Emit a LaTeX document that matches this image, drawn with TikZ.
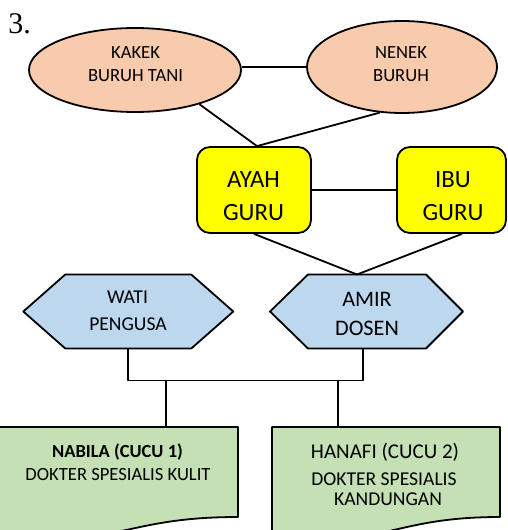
\documentclass[tikz,border=0pt]{standalone}
\usepackage{fontspec}
\setmainfont{Carlito}
\newfontfamily\timesf{Liberation Serif}
\usetikzlibrary{shapes.geometric}
\definecolor{peach}{HTML}{F8CBAD}
\definecolor{boxyellow}{HTML}{FFFF00}
\definecolor{hexblue}{HTML}{BDD7EE}
\definecolor{docgreen}{HTML}{C5E0B4}
\begin{document}
\begin{tikzpicture}[x=1pt,y=-1pt, line width=1.8pt, line join=round,
  lbl/.style={anchor=base, inner sep=0pt, outer sep=0pt},
  fa/.style={font=\fontsize{18.6}{21}\selectfont},
  fb/.style={font=\fontsize{24.8}{27}\selectfont},
  fc/.style={font=\fontsize{19.6}{22}\selectfont},
  fd/.style={font=\fontsize{22.2}{25}\selectfont},
  fe/.style={font=\fontsize{18.5}{21}\selectfont\bfseries},
  ff/.style={font=\fontsize{21}{24}\selectfont},
  fg/.style={font=\fontsize{19.6}{22}\selectfont},
  ell/.style={ellipse, draw, fill=peach, inner sep=0pt},
  rbox/.style={rectangle, rounded corners=13pt, draw, fill=boxyellow, inner sep=0pt},
  frame/.style={rectangle, inner sep=0pt, outer sep=0pt},
  hexfill/.style={draw, fill=hexblue},
  docfill/.style={draw, fill=docgreen}]
\useasboundingbox (0,0) rectangle (507,530);
\clip (0,0) rectangle (507,530);

% shapes
\node[ell, minimum width=212pt, minimum height=84pt] (kakek) at (135,70) {};
\node[ell, minimum width=190pt, minimum height=92pt] (nenek) at (402,67) {};
\node[rbox, minimum width=114pt, minimum height=86pt] (ayah) at (254,190) {};
\node[rbox, minimum width=109pt, minimum height=86pt] (ibu) at (451.5,190) {};
\node[frame, minimum width=210pt, minimum height=74pt] (wati) at (128.3,311.5) {};
\node[frame, minimum width=193pt, minimum height=74pt] (amir) at (366.5,311.5) {};
\node[frame, minimum width=240pt, minimum height=112.2pt] (nabila) at (118,483.1) {};
\node[frame, minimum width=228pt, minimum height=112.2pt] (hanafi) at (386,483.1) {};

\path[hexfill] (wati.west) -- ([xshift=42pt]wati.north west) -- ([xshift=-42pt]wati.north east)
  -- (wati.east) -- ([xshift=-42pt]wati.south east) -- ([xshift=42pt]wati.south west) -- cycle;
\path[hexfill] (amir.west) -- ([xshift=38pt]amir.north west) -- ([xshift=-37pt]amir.north east)
  -- (amir.east) -- ([xshift=-37pt]amir.south east) -- ([xshift=38pt]amir.south west) -- cycle;

\path[docfill] (nabila.north west) -- (nabila.north east) -- ([yshift=-90pt]nabila.north east)
  .. controls ([yshift=-90pt]nabila.north) and ([yshift=-124.3pt]nabila.north)
  .. ([yshift=-104.8pt]nabila.north west) -- cycle;
\path[docfill] (hanafi.north west) -- (hanafi.north east) -- ([yshift=-90pt]hanafi.north east)
  .. controls ([yshift=-90pt]hanafi.north) and ([yshift=-124.3pt]hanafi.north)
  .. ([yshift=-104.8pt]hanafi.north west) -- cycle;

% connectors
\draw (kakek.east |- nenek.west) -- (nenek.west);
\draw (kakek.-28.4) -- ([xshift=3pt]ayah.north);
\draw (nenek.-116) -- ([xshift=3pt]ayah.north);
\draw (ayah.east) -- (ibu.west);
\draw (ayah.south) -- ([xshift=-9.5pt]amir.north);
\draw ([xshift=10.5pt]ibu.south) -- ([xshift=-9.5pt]amir.north);
\draw (wati.south) -- ++(0,32) -| ([xshift=-3.5pt]amir.south);
\coordinate (jL) at (165.7,381);
\coordinate (jR) at (338,381);
\draw (jL) -- (jL |- nabila.north);
\draw (jR) -- (jR |- hanafi.north);

% texts
\node[lbl, anchor=base west, font=\timesf\fontsize{30}{32}\selectfont] (num) at (8.5,33.3) {3.};
\node[lbl, fa] (t1a) at (135.5,58) {KAKEK};
\node[lbl, fa] (t1b) at (135.5,81) {BURUH TANI};
\node[lbl, fa] (t2a) at (401,58) {NENEK};
\node[lbl, fa] (t2b) at (401,81.5) {BURUH};
\node[lbl, fb] (t3a) at (253.5,187) {AYAH};
\node[lbl, fb] (t3b) at (253.5,220) {GURU};
\node[lbl, fb] (t4a) at (453,187) {IBU};
\node[lbl, fb] (t4b) at (453,220) {GURU};
\node[lbl, fc] (t5a) at (127.5,303.3) {WATI};
\node[lbl, fc] (t5b) at (128,330) {PENGUSA};
\node[lbl, fd] (t6a) at (367,306.7) {AMIR};
\node[lbl, fd] (t6b) at (367,335) {DOSEN};
\node[lbl, fe] (t7a) at (117.5,457.3) {NABILA (CUCU 1)};
\node[lbl, fa] (t7b) at (118,480) {DOKTER SPESIALIS KULIT};
\node[lbl, ff] (t8a) at (385,458.3) {HANAFI (CUCU 2)};
\node[lbl, fg] (t8b) at (384,485) {DOKTER SPESIALIS};
\node[lbl, fg] (t8c) at (388,505) {KANDUNGAN};
\end{tikzpicture}
\end{document}
